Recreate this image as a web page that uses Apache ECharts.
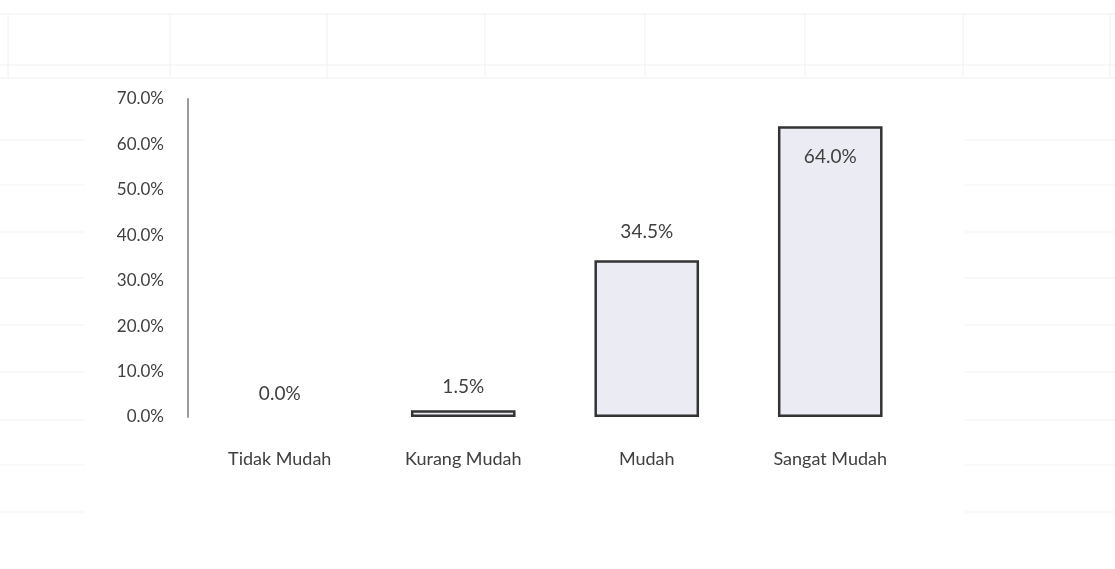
<!DOCTYPE html>
<html>
<head>
<meta charset="utf-8">
<style>
  html, body { margin: 0; padding: 0; background: #fff; }
  #chart { width: 1115px; height: 569px; }
</style>
<script src="https://cdn.jsdelivr.net/npm/echarts@6/dist/echarts.min.js"></script>
</head>
<body>
<div id="chart"></div>
<script>
const categories = ['Tidak Mudah', 'Kurang Mudah', 'Mudah', 'Sangat Mudah']
const values = [0.0, 1.5, 34.5, 64.0]
const labelPositions = ['top', 'top', 'top', 'insideTop']

const textColor = '#404040'
const fontFamily = 'Lato, "Open Sans", sans-serif'

// faint spreadsheet cell lines behind the chart (decoration only)
const sheetLines = []
const colXs = [8, 170, 327, 485, 645, 805, 963, 1110]
const rowYs = [14, 65, 78]
for (const x of colXs) {
  sheetLines.push({ type: 'line', shape: { x1: x, y1: 14, x2: x, y2: 78 }, style: { stroke: '#f0f0f0', lineWidth: 1 }, z: -10 })
}
for (const y of rowYs) {
  sheetLines.push({ type: 'line', shape: { x1: 0, y1: y, x2: 1115, y2: y }, style: { stroke: '#f0f0f0', lineWidth: 1 }, z: -10 })
}
for (const y of [140, 185, 232, 278, 325, 372, 420, 465, 512]) {
  sheetLines.push({ type: 'line', shape: { x1: 965, y1: y, x2: 1115, y2: y }, style: { stroke: '#f3f3f3', lineWidth: 1 }, z: -10 })
  sheetLines.push({ type: 'line', shape: { x1: 0, y1: y, x2: 85, y2: y }, style: { stroke: '#f3f3f3', lineWidth: 1 }, z: -10 })
}

const chart = echarts.init(document.getElementById('chart'))
chart.setOption({
  animation: false,
  backgroundColor: '#fff',
  graphic: sheetLines,
  grid: { left: 188, right: 193, top: 99, bottom: 152 },
  xAxis: {
    type: 'category',
    data: categories,
    axisLine: { show: false },
    axisTick: { show: false },
    axisLabel: { color: textColor, fontSize: 18, fontFamily, margin: 33 }
  },
  yAxis: {
    type: 'value',
    min: 0,
    max: 70,
    interval: 10,
    splitLine: { show: false },
    axisLine: { show: true, lineStyle: { color: '#9a9a9a', width: 2 } },
    axisTick: { show: false },
    axisLabel: {
      color: textColor,
      fontSize: 17,
      fontFamily,
      margin: 24,
      formatter: (v) => v.toFixed(1) + '%'
    }
  },
  series: [{
    type: 'bar',
    barWidth: '57%',
    data: values.map((v, i) => ({
      value: v,
      itemStyle: v === 0 ? { borderWidth: 0, color: 'transparent' } : {},
      label: {
        position: labelPositions[i],
        distance: labelPositions[i] === 'insideTop' ? 21 : (i === 2 ? 19 : 14)
      }
    })),
    itemStyle: { color: '#ebebf3', borderColor: '#333333', borderWidth: 2.5 },
    label: {
      show: true,
      color: textColor,
      fontSize: 19,
      fontFamily,
      formatter: (p) => p.value.toFixed(1) + '%'
    }
  }]
})
</script>
</body>
</html>
